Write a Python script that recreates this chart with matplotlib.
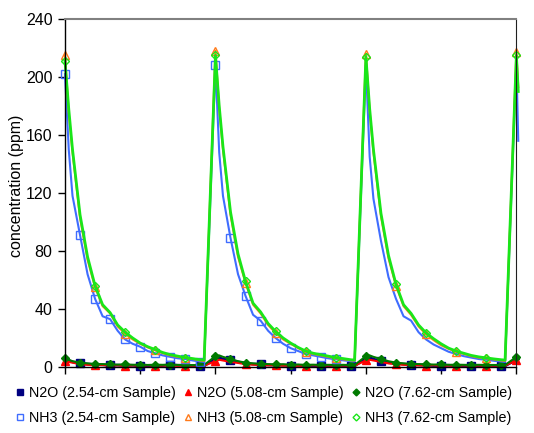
"""N2O / NH3 concentration pulses for three sample lengths."""
import matplotlib
matplotlib.use('Agg')
import matplotlib.pyplot as plt
from matplotlib.lines import Line2D

# sample times (arbitrary units, one x tick every 20)
time = [0, 1, 2, 4, 6, 8, 10, 12, 14, 16, 18, 20, 22, 24, 26, 28, 30, 32, 34, 36, 37,
        40, 41, 42, 44, 46, 48, 50, 52, 54, 56, 58, 60, 62, 64, 66, 68, 70, 72, 74, 76, 77,
        80, 81, 82, 84, 86, 88, 90, 92, 94, 96, 98, 100, 102, 104, 106, 108, 110, 112, 114, 116, 117,
        120, 120.5]

nh3_254 = [202, 150, 118, 91, 64, 47, 35, 33, 25, 19, 16, 14, 11, 9.5, 8, 7, 6, 5.5, 4.5, 3.8, 3.5,
           208, 148, 118, 89, 64, 49, 36, 32, 25, 20, 16, 13, 11, 9, 8, 7, 6, 5.3, 4.6, 4, 3.8,
           208, 145, 116, 87, 62, 47, 35, 32, 24, 19, 15.5, 13, 10.5, 9, 7.5, 6.5, 5.5, 5, 4.3, 3.8, 3.5,
           210, 156]
nh3_508 = [215, 175, 148, 103, 74, 55, 42, 37, 28, 23, 19, 16, 13.5, 11.5, 9.5, 8, 7, 6.3, 5.5, 4.5, 4.2,
           218, 178, 150, 105, 76, 58, 43, 37, 29, 23.5, 19, 16, 13, 10.5, 9, 8, 7, 6, 5.3, 4.6, 4.4,
           216, 176, 148, 104, 75, 56, 42, 36, 28, 22.5, 18.5, 15, 12.5, 10.5, 9, 7.5, 6.5, 6, 5.2, 4.5, 4.2,
           217, 193]
nh3_762 = [211, 178, 150, 105, 76, 56, 43, 37.5, 29, 24, 20, 16.5, 14, 12, 10, 8.5, 7.5, 6.5, 5.8, 5, 4.8,
           215, 180, 152, 107, 78, 59, 44, 38, 30, 24.5, 20, 16.5, 13.5, 11, 9.5, 8.5, 7.5, 6.5, 5.8, 5, 4.8,
           214, 178, 150, 106, 77, 57, 43, 37, 29, 23.5, 19.5, 16, 13, 11, 9.5, 8, 7, 6.3, 5.6, 5, 4.8,
           215, 190]

n2o_254 = [5, 4.5, 3.5, 2.5, 2, 1.8, 1.5, 1.2, 1.3, 1, 1.2, 0.8, 1, 0.8, 1, 1.5, 1.2, 1, 1, 0.8, 0.8,
           6, 6.5, 5.5, 4.5, 3.5, 2.5, 2, 1.8, 1.5, 1.2, 1.3, 1, 1.2, 0.8, 1, 0.8, 1, 0.8, 1, 0.8, 0.8,
           6, 6.5, 5.5, 4, 3, 2.5, 2, 1.5, 1.5, 1.2, 1, 1, 1.2, 0.8, 1, 0.8, 1, 0.8, 0.8, 0.8, 0.8,
           5, 5.5]
n2o_508 = [4, 3.5, 3, 2, 1.5, 1.2, 1.4, 1, 1.2, 0.8, 1.1, 0.9, 1.2, 0.8, 1, 1.1, 0.8, 1, 0.9, 0.8, 0.9,
           4, 5, 4.5, 3.5, 2.8, 2, 1.6, 1.3, 1.1, 1.3, 0.9, 1.1, 0.8, 1, 1.2, 0.9, 1, 0.8, 1, 0.9, 0.9,
           4.5, 5, 4.5, 3.5, 2.5, 2, 1.5, 1.3, 1.1, 1, 1.2, 0.9, 1, 0.8, 1.1, 0.9, 1, 0.8, 0.9, 0.9, 0.9,
           4.8, 5]
n2o_762 = [6, 5, 4, 3, 2.5, 2, 2, 1.8, 1.6, 1.9, 1.5, 1.7, 1.4, 1.6, 1.5, 1.7, 1.4, 1.5, 1.3, 1.4, 1.4,
           7.5, 8, 7, 5.5, 4, 3, 2.5, 2.2, 2, 1.8, 1.9, 1.6, 1.7, 1.5, 1.6, 1.4, 1.5, 1.4, 1.5, 1.3, 1.4,
           7.5, 8, 7, 5.5, 4, 3, 2.5, 2.2, 2, 1.9, 1.7, 1.8, 1.5, 1.6, 1.5, 1.4, 1.5, 1.4, 1.4, 1.3, 1.4,
           7, 7.5]

labels_n2o = ['N2O (2.54-cm Sample)', 'N2O (5.08-cm Sample)', 'N2O (7.62-cm Sample)']
labels_nh3 = ['NH3 (2.54-cm Sample)', 'NH3 (5.08-cm Sample)', 'NH3 (7.62-cm Sample)']
y_ticks = [0, 40, 80, 120, 160, 200, 240]
x_ticks = [0, 20, 40, 60, 80, 100, 120]

plt.rcParams['font.family'] = ['Liberation Sans', 'DejaVu Sans']

fig = plt.figure(figsize=(5.34, 4.33), dpi=100)
ax = fig.add_axes([0.1217, 0.1524, 0.8453, 0.8037])


def every(step, offset=0, upto=999):
    return [i for i, t in enumerate(time) if t % step == offset and t < upto]


# N2O series first (drawn underneath)
ax.plot(time, n2o_254, color='#000080', lw=2, marker='s', ms=6,
        markevery=every(8, 4), clip_on=False)
ax.plot(time, n2o_508, color='#ff0000', lw=1.5, marker='^', ms=5.5,
        markevery=every(8, 0), clip_on=False, zorder=2.1)
ax.plot(time, n2o_762, color='#007a00', lw=1.5, marker='D', ms=4,
        markevery=every(4, 0), clip_on=False, zorder=2.2)

# NH3 series
ax.plot(time, nh3_254, color='#3f6dff', lw=1.5, marker='s', ms=6, mfc='none', mew=1,
        markevery=every(4, 0, 76), clip_on=False, zorder=2.3)
ax.plot(time, nh3_508, color='#ff7a1a', lw=1.5, marker='^', ms=6, mfc='none', mew=1,
        markevery=every(8, 0), clip_on=False, zorder=2.4)
ax.plot(time, nh3_762, color='#19e619', lw=2, marker='D', ms=4.5, mfc='none', mew=1,
        markevery=every(8, 0), clip_on=False, zorder=2.5)

ax.set_xlim(0, 120)
ax.set_ylim(0, 240)
ax.set_yticks(y_ticks)
ax.set_xticks(x_ticks)
ax.set_xticklabels([])
ax.tick_params(axis='y', labelsize=11.5, length=5, width=1, direction='out', pad=4)
ax.tick_params(axis='x', length=5, width=1, direction='out')
ax.set_ylabel('concentration (ppm)', fontsize=11.5)
ax.yaxis.set_label_coords(-0.09, 0.52)

ax.spines['top'].set_color('#808080')
ax.spines['top'].set_linewidth(1.5)
ax.spines['right'].set_color('#202020')
for s in ('left', 'bottom'):
    ax.spines[s].set_color('black')
    ax.spines[s].set_linewidth(1)

# legend: markers only, N2O on first row, NH3 on second
handles = [
    Line2D([], [], ls='none', marker='s', ms=4.5, color='#000080'),
    Line2D([], [], ls='none', marker='s', ms=4.5, color='#3f6dff', mfc='none'),
    Line2D([], [], ls='none', marker='^', ms=4.5, color='#ff0000'),
    Line2D([], [], ls='none', marker='^', ms=4.5, color='#ff7a1a', mfc='none'),
    Line2D([], [], ls='none', marker='D', ms=3.5, color='#007a00'),
    Line2D([], [], ls='none', marker='D', ms=3.5, color='#19e619', mfc='none'),
]
names = [labels_n2o[0], labels_nh3[0], labels_n2o[1], labels_nh3[1], labels_n2o[2], labels_nh3[2]]
fig.legend(handles, names, ncol=3, loc='upper center', bbox_to_anchor=(0.495, 0.108),
           frameon=False, fontsize=10.3, handlelength=0.5, handletextpad=0.38,
           columnspacing=0.6, labelspacing=0.75, borderpad=0, borderaxespad=0)

fig.savefig('out.png', dpi=100, facecolor='white')
